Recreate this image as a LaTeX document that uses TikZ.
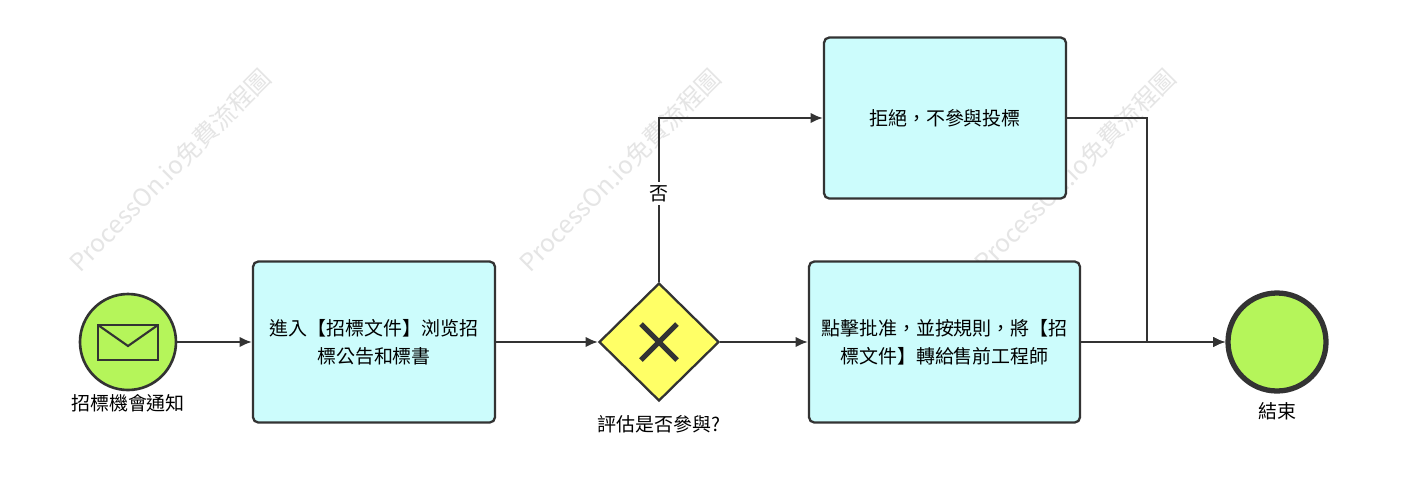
\documentclass[tikz,border=0pt]{standalone}
\usepackage{fontspec}
\setmainfont{Noto Sans CJK TC}
\usetikzlibrary{arrows.meta,shapes.geometric}
\definecolor{boxfill}{HTML}{CCFCFC}
\definecolor{evfill}{HTML}{B5F55A}
\definecolor{gwfill}{HTML}{FFFF66}
\definecolor{edge}{HTML}{333333}
\tikzset{
  x=0.02cm,y=-0.02cm,
  task/.style={draw=edge,line width=1.3pt,fill=boxfill,rounded corners=3pt,minimum width=242*0.02cm,minimum height=161*0.02cm,align=center,font=\fontsize{10.8}{16}\selectfont},
  ev/.style={circle,draw=edge,fill=evfill,minimum size=96*0.02cm,inner sep=0pt},
  conn/.style={draw=edge,line width=1.2pt,-{Latex[length=7pt,width=6pt]}},
  lbl/.style={font=\fontsize{10.8}{13}\selectfont},
  wm/.style={text=black!10,rotate=45,font=\fontsize{14}{16}\selectfont}
}
\begin{document}
\begin{tikzpicture}
\fill[white] (0,0) rectangle (1406,481);
\useasboundingbox (0,0) rectangle (1406,481);
\node[wm] at (170,170) {ProcessOn.io免費流程圖};
\node[wm] at (620,170) {ProcessOn.io免費流程圖};
\node[wm] at (1075,170) {ProcessOn.io免費流程圖};
\node[ev,line width=1.5pt] (start) at (128,342) {};
\draw[edge,line width=1.2pt] (98,325) rectangle (158,360);
\draw[edge,line width=1.2pt] (98,325) -- (128,346) -- (158,325);
\node[lbl] (startl) at (128,403) {招標機會通知};
\node[task] (t1) at (374,342) {進入【招標文件】浏览招\\標公告和標書};
\node[diamond,draw=edge,line width=1.3pt,fill=gwfill,minimum width=120*0.02cm,minimum height=118*0.02cm,inner sep=0pt] (gw) at (659,342) {};
\draw[edge,line width=3pt] (641,324) -- (677,360) (641,360) -- (677,324);
\node[lbl] (gwl) at (659,424) {評估是否參與?};
\node[task] (t2) at (945,118) {拒絕，不參與投標};
\node[task,minimum width=271*0.02cm] (t3) at (944.5,342) {點擊批准，並按規則，將【招\\標文件】轉給售前工程師};
\node[ev,line width=3pt,minimum size=98*0.02cm] (end) at (1277,342) {};
\node[lbl] (endl) at (1277,411) {結束};
\draw[conn] (start) -- (t1);
\draw[conn] (t1) -- (gw);
\draw[conn] (gw) -- (t3);
\draw[conn] (gw.north) |- node[pos=0.27,fill=white,inner sep=2pt,lbl] {否} (t2.west);
\draw[conn] (t2.east) -- (1147,118) -- (1147,342) -- (end.west);
\draw[conn] (t3) -- (end);
\end{tikzpicture}
\end{document}
